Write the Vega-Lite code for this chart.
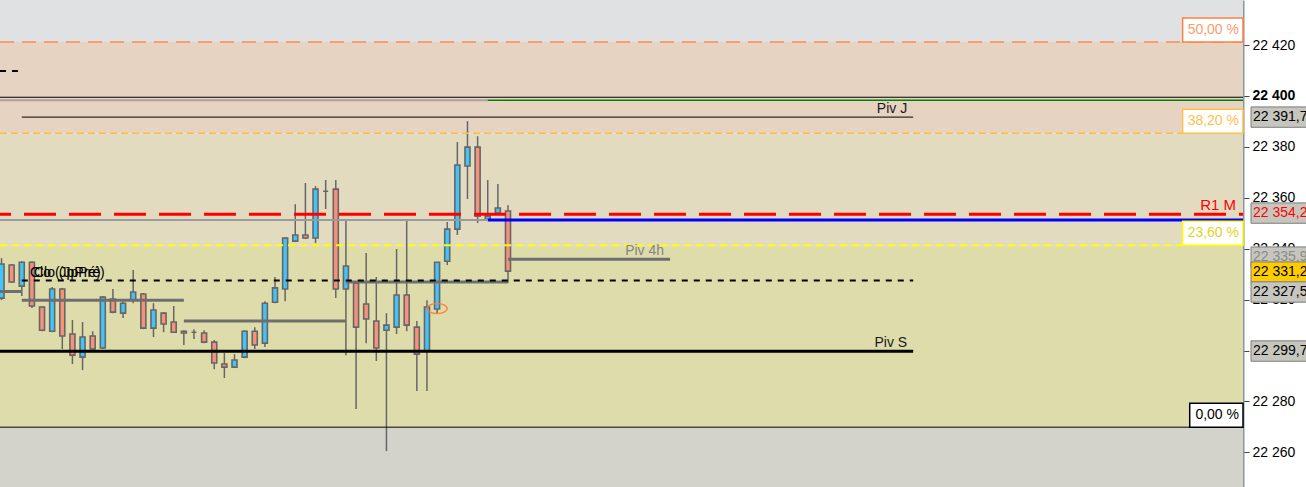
{
  "$schema": "https://vega.github.io/schema/vega-lite/v6.json",
  "width": 1243,
  "height": 487,
  "autosize": {"type": "none"},
  "padding": {"left": 0, "top": 0, "right": 63, "bottom": 0},
  "background": "#ffffff",
  "config": {"view": {"stroke": null}, "scale": {"continuousPadding": 0}},
  "resolve": {"scale": {"color": "independent", "fill": "independent", "stroke": "independent", "strokeDash": "independent"}},
  "datasets": {
    "bands": [
      {"zone": "top", "lo": 22421.2, "hi": 22437.7},
      {"zone": "z50", "lo": 22385.4, "hi": 22421.2},
      {"zone": "z38", "lo": 22341.4, "hi": 22385.4},
      {"zone": "z23", "lo": 22269.9, "hi": 22341.4},
      {"zone": "bot", "lo": 22246.4, "hi": 22269.9}
    ],
    "candles": [
      {"i": 0, "o": 22320.6, "h": 22336.3, "l": 22319.8, "c": 22334.0},
      {"i": 1, "o": 22333.6, "h": 22334.0, "l": 22326.5, "c": 22326.9},
      {"i": 2, "o": 22325.3, "h": 22335.1, "l": 22321.4, "c": 22334.7},
      {"i": 3, "o": 22334.7, "h": 22335.1, "l": 22316.7, "c": 22317.5},
      {"i": 4, "o": 22317.1, "h": 22317.5, "l": 22307.6, "c": 22308.0},
      {"i": 5, "o": 22307.6, "h": 22325.0, "l": 22307.2, "c": 22324.2},
      {"i": 6, "o": 22324.2, "h": 22324.6, "l": 22300.6, "c": 22305.7},
      {"i": 7, "o": 22306.5, "h": 22312.0, "l": 22294.7, "c": 22298.2},
      {"i": 8, "o": 22297.4, "h": 22311.2, "l": 22292.3, "c": 22305.3},
      {"i": 9, "o": 22305.7, "h": 22307.6, "l": 22300.2, "c": 22300.6},
      {"i": 10, "o": 22301.0, "h": 22321.4, "l": 22300.6, "c": 22321.0},
      {"i": 11, "o": 22320.2, "h": 22324.2, "l": 22314.7, "c": 22315.1},
      {"i": 12, "o": 22314.7, "h": 22319.4, "l": 22312.8, "c": 22318.6},
      {"i": 13, "o": 22319.8, "h": 22331.6, "l": 22318.6, "c": 22323.0},
      {"i": 14, "o": 22322.2, "h": 22322.6, "l": 22308.4, "c": 22308.8},
      {"i": 15, "o": 22308.8, "h": 22318.6, "l": 22305.3, "c": 22315.9},
      {"i": 16, "o": 22314.7, "h": 22315.1, "l": 22307.2, "c": 22310.4},
      {"i": 17, "o": 22311.2, "h": 22317.5, "l": 22306.9, "c": 22307.2},
      {"i": 18, "o": 22307.6, "h": 22308.0, "l": 22302.2, "c": 22306.9},
      {"i": 19, "o": 22307.2, "h": 22308.4, "l": 22304.5, "c": 22307.2},
      {"i": 20, "o": 22306.9, "h": 22308.0, "l": 22302.9, "c": 22303.3},
      {"i": 21, "o": 22303.3, "h": 22304.1, "l": 22292.7, "c": 22295.1},
      {"i": 22, "o": 22294.7, "h": 22299.0, "l": 22289.2, "c": 22293.5},
      {"i": 23, "o": 22293.5, "h": 22298.6, "l": 22293.1, "c": 22296.3},
      {"i": 24, "o": 22297.4, "h": 22308.0, "l": 22297.0, "c": 22307.6},
      {"i": 25, "o": 22307.6, "h": 22309.2, "l": 22300.6, "c": 22302.2},
      {"i": 26, "o": 22302.9, "h": 22319.4, "l": 22301.4, "c": 22318.6},
      {"i": 27, "o": 22319.0, "h": 22328.9, "l": 22318.6, "c": 22324.6},
      {"i": 28, "o": 22324.2, "h": 22344.6, "l": 22319.4, "c": 22344.2},
      {"i": 29, "o": 22343.0, "h": 22357.5, "l": 22342.6, "c": 22345.4},
      {"i": 30, "o": 22345.4, "h": 22365.8, "l": 22343.8, "c": 22344.2},
      {"i": 31, "o": 22344.2, "h": 22364.6, "l": 22342.2, "c": 22363.4},
      {"i": 32, "o": 22362.6, "h": 22367.0, "l": 22355.6, "c": 22362.6},
      {"i": 33, "o": 22363.4, "h": 22367.0, "l": 22320.6, "c": 22324.2},
      {"i": 34, "o": 22324.2, "h": 22351.6, "l": 22298.2, "c": 22333.2},
      {"i": 35, "o": 22326.5, "h": 22326.9, "l": 22277.0, "c": 22309.2},
      {"i": 36, "o": 22318.3, "h": 22338.3, "l": 22302.9, "c": 22312.4},
      {"i": 37, "o": 22311.6, "h": 22328.9, "l": 22295.9, "c": 22301.0},
      {"i": 38, "o": 22308.0, "h": 22314.7, "l": 22260.5, "c": 22310.0},
      {"i": 39, "o": 22309.2, "h": 22339.9, "l": 22306.5, "c": 22321.8},
      {"i": 40, "o": 22321.8, "h": 22351.6, "l": 22307.6, "c": 22310.0},
      {"i": 41, "o": 22309.2, "h": 22311.6, "l": 22284.1, "c": 22298.6},
      {"i": 42, "o": 22299.8, "h": 22319.8, "l": 22284.1, "c": 22317.1},
      {"i": 43, "o": 22316.3, "h": 22334.7, "l": 22314.7, "c": 22334.7},
      {"i": 44, "o": 22335.1, "h": 22350.5, "l": 22333.6, "c": 22347.7},
      {"i": 45, "o": 22347.7, "h": 22381.9, "l": 22345.4, "c": 22372.9},
      {"i": 46, "o": 22372.5, "h": 22390.1, "l": 22359.5, "c": 22379.9},
      {"i": 47, "o": 22379.9, "h": 22384.2, "l": 22350.1, "c": 22352.8},
      {"i": 48, "o": 22351.6, "h": 22367.0, "l": 22351.3, "c": 22352.8},
      {"i": 49, "o": 22354.0, "h": 22365.4, "l": 22353.6, "c": 22356.0},
      {"i": 50, "o": 22354.8, "h": 22357.1, "l": 22326.5, "c": 22331.2}
    ],
    "lines": [
      {"kind": "fib50", "p": 22421.2, "x0": -0.15, "x1": 122.56},
      {"kind": "fib382", "p": 22385.4, "x0": -0.15, "x1": 122.56},
      {"kind": "fib236", "p": 22341.4, "x0": -0.15, "x1": 122.56},
      {"kind": "fib0", "p": 22269.9, "x0": -0.15, "x1": 122.56},
      {"kind": "lvl", "p": 22399.5, "x0": -0.15, "x1": 122.56},
      {"kind": "topdash", "p": 22409.8, "x0": -0.15, "x1": 1.85},
      {"kind": "gray400", "p": 22398.3, "x0": -0.15, "x1": 48},
      {"kind": "green400", "p": 22398.3, "x0": 48, "x1": 122.56},
      {"kind": "pivJ", "p": 22391.7, "x0": 2, "x1": 90},
      {"kind": "r1m", "p": 22353.5, "x0": -0.15, "x1": 122.56},
      {"kind": "gray352", "p": 22351.3, "x0": -0.15, "x1": 48},
      {"kind": "blue352", "p": 22351.3, "x0": 48, "x1": 122.56},
      {"kind": "clo", "p": 22327.5, "x0": 2, "x1": 90},
      {"kind": "pivS", "p": 22299.7, "x0": -0.15, "x1": 90},
      {"kind": "piv4h", "p": 22323.2, "x0": -0.15, "x1": 2},
      {"kind": "piv4h", "p": 22319.8, "x0": 2, "x1": 18},
      {"kind": "piv4h", "p": 22311.6, "x0": 18, "x1": 34},
      {"kind": "piv4h", "p": 22326.9, "x0": 34, "x1": 50},
      {"kind": "piv4h", "p": 22335.9, "x0": 50, "x1": 66}
    ],
    "rlabels": [
      {"t": "Piv J", "x": 90, "p": 22391.7, "kind": "dark"},
      {"t": "Piv S", "x": 90, "p": 22299.7, "kind": "dark"},
      {"t": "Piv 4h", "x": 66, "p": 22335.9, "kind": "gray"}
    ],
    "r1label": [
      {"t": "R1 M", "x": 122.56, "p": 22353.5}
    ],
    "llabels": [
      {"t": "Clo (JpPré)", "x": 2.81, "p": 22327.5},
      {"t": "Clo (JpPré)", "x": 3.2, "p": 22327.5}
    ],
    "fibs": [
      {"lab": "50,00 %", "p": 22421.2, "x0": 116.6, "x1": 122.56, "kind": "f50"},
      {"lab": "38,20 %", "p": 22385.4, "x0": 116.6, "x1": 122.56, "kind": "f38"},
      {"lab": "23,60 %", "p": 22341.4, "x0": 116.6, "x1": 122.56, "kind": "f23"},
      {"lab": "0,00 %", "p": 22269.9, "x0": 117.3, "x1": 122.56, "kind": "f0"}
    ],
    "tagsBack": [
      {"lab": "22 335,9", "s": 22336.7, "kind": "g"}
    ],
    "tags": [
      {"lab": "22 391,7", "s": 22391.7, "kind": "n"},
      {"lab": "22 354,2", "s": 22354.0, "kind": "r"},
      {"lab": "22 331,2", "s": 22330.8, "kind": "y"},
      {"lab": "22 327,5", "s": 22323.0, "kind": "n"},
      {"lab": "22 299,7", "s": 22299.8, "kind": "n"}
    ],
    "marks": [
      {"i": 43, "p": 22316.5}
    ]
  },
  "layer": [
    {
      "data": {"name": "bands"},
      "mark": {"type": "rect"},
      "encoding": {
        "y": {
          "field": "lo", "type": "quantitative", "title": null,
          "scale": {"domain": [22246.4, 22437.7], "nice": false, "zero": false, "padding": 0},
          "axis": {
            "orient": "right",
            "values": [22260, 22280, 22300, 22320, 22340, 22360, 22380, 22400, 22420],
            "labelExpr": "replace(format(datum.value, ','), ',', ' ')",
            "labelFontWeight": {"condition": {"test": "datum.value == 22400", "value": "bold"}, "value": "normal"},
            "grid": false,
            "domainColor": "#8797a6",
            "domainWidth": 2,
            "tickSize": 6,
            "tickColor": "#444444",
            "labelFont": "Liberation Sans",
            "labelFontSize": 14,
            "labelColor": "#000000",
            "labelPadding": 3,
            "labelOverlap": false,
            "labelFlush": false,
            "title": null
          }
        },
        "y2": {"field": "hi"},
        "color": {
          "field": "zone", "type": "nominal", "legend": null,
          "scale": {"domain": ["top", "z50", "z38", "z23", "bot"], "range": ["#dfe1e3", "#e7d3c1", "#e3dbbf", "#dfdcac", "#d3d2cb"]}
        }
      }
    },
    {
      "data": {"name": "candles"},
      "mark": {"type": "rule", "color": "#666666", "strokeWidth": 1.5},
      "encoding": {
        "x": {"field": "i", "type": "quantitative", "axis": null, "scale": {"domain": [-0.15, 122.56], "nice": false, "zero": false, "padding": 0}},
        "y": {"field": "l", "type": "quantitative", "title": null, "scale": {"domain": [22246.4, 22437.7], "nice": false, "zero": false, "padding": 0}},
        "y2": {"field": "h"}
      }
    },
    {
      "data": {"name": "candles"},
      "transform": [{"calculate": "datum.c > datum.o ? 'up' : (datum.c < datum.o ? 'down' : 'doji')", "as": "dir"}],
      "mark": {"type": "bar", "width": 5, "stroke": "#666666", "strokeWidth": 1.6},
      "encoding": {
        "x": {"field": "i", "type": "quantitative", "axis": null, "scale": {"domain": [-0.15, 122.56], "nice": false, "zero": false, "padding": 0}},
        "y": {"field": "o", "type": "quantitative", "title": null, "scale": {"domain": [22246.4, 22437.7], "nice": false, "zero": false, "padding": 0}},
        "y2": {"field": "c"},
        "fill": {"field": "dir", "type": "nominal", "legend": null, "scale": {"domain": ["up", "down", "doji"], "range": ["#40c4fc", "#f8917c", "#666666"]}}
      }
    },
    {
      "data": {"name": "lines"},
      "transform": [{"filter": {"field": "kind", "oneOf": ["r1m", "blue352", "pivS", "piv4h"]}}],
      "mark": {"type": "rule", "strokeWidth": 3, "strokeDashOffset": 21},
      "encoding": {
        "x": {"field": "x0", "type": "quantitative", "axis": null, "scale": {"domain": [-0.15, 122.56], "nice": false, "zero": false, "padding": 0}},
        "x2": {"field": "x1"},
        "y": {"field": "p", "type": "quantitative", "title": null, "scale": {"domain": [22246.4, 22437.7], "nice": false, "zero": false, "padding": 0}},
        "color": {"field": "kind", "type": "nominal", "legend": null, "scale": {"domain": ["r1m", "blue352", "pivS", "piv4h"], "range": ["#ff0000", "#0000ff", "#000000", "#6e6e6e"]}},
        "strokeDash": {"field": "kind", "type": "nominal", "legend": null, "scale": {"domain": ["r1m", "blue352", "pivS", "piv4h"], "range": [[32, 13], [1, 0], [1, 0], [1, 0]]}}
      }
    },
    {
      "data": {"name": "lines"},
      "transform": [{"filter": {"field": "kind", "oneOf": ["fib236", "topdash", "gray400", "gray352", "clo"]}}],
      "mark": {"type": "rule", "strokeWidth": 2},
      "encoding": {
        "x": {"field": "x0", "type": "quantitative", "axis": null, "scale": {"domain": [-0.15, 122.56], "nice": false, "zero": false, "padding": 0}},
        "x2": {"field": "x1"},
        "y": {"field": "p", "type": "quantitative", "title": null, "scale": {"domain": [22246.4, 22437.7], "nice": false, "zero": false, "padding": 0}},
        "color": {"field": "kind", "type": "nominal", "legend": null, "scale": {"domain": ["fib236", "topdash", "gray400", "gray352", "clo"], "range": ["#ffff00", "#000000", "#aaa39c", "#9a9a9a", "#000000"]}},
        "strokeDash": {"field": "kind", "type": "nominal", "legend": null, "scale": {"domain": ["fib236", "topdash", "gray400", "gray352", "clo"], "range": [[7, 5], [6, 6], [1, 0], [1, 0], [6, 6]]}}
      }
    },
    {
      "data": {"name": "lines"},
      "transform": [{"filter": {"field": "kind", "oneOf": ["fib50", "fib382", "green400"]}}],
      "mark": {"type": "rule", "strokeWidth": 1.5},
      "encoding": {
        "x": {"field": "x0", "type": "quantitative", "axis": null, "scale": {"domain": [-0.15, 122.56], "nice": false, "zero": false, "padding": 0}},
        "x2": {"field": "x1"},
        "y": {"field": "p", "type": "quantitative", "title": null, "scale": {"domain": [22246.4, 22437.7], "nice": false, "zero": false, "padding": 0}},
        "color": {"field": "kind", "type": "nominal", "legend": null, "scale": {"domain": ["fib50", "fib382", "green400"], "range": ["#ff8a55", "#ffbe3c", "#008000"]}},
        "strokeDash": {"field": "kind", "type": "nominal", "legend": null, "scale": {"domain": ["fib50", "fib382", "green400"], "range": [[14, 8], [7, 4], [1, 0]]}}
      }
    },
    {
      "data": {"name": "lines"},
      "transform": [{"filter": {"field": "kind", "oneOf": ["fib0", "lvl", "pivJ"]}}],
      "mark": {"type": "rule", "strokeWidth": 1, "color": "#000000"},
      "encoding": {
        "x": {"field": "x0", "type": "quantitative", "axis": null, "scale": {"domain": [-0.15, 122.56], "nice": false, "zero": false, "padding": 0}},
        "x2": {"field": "x1"},
        "y": {"field": "p", "type": "quantitative", "title": null, "scale": {"domain": [22246.4, 22437.7], "nice": false, "zero": false, "padding": 0}}
      }
    },
    {
      "data": {"name": "rlabels"},
      "mark": {"type": "text", "align": "right", "baseline": "alphabetic", "dx": -6, "dy": -4, "font": "Liberation Sans", "fontSize": 14},
      "encoding": {
        "x": {"field": "x", "type": "quantitative", "axis": null, "scale": {"domain": [-0.15, 122.56], "nice": false, "zero": false, "padding": 0}},
        "y": {"field": "p", "type": "quantitative", "title": null, "scale": {"domain": [22246.4, 22437.7], "nice": false, "zero": false, "padding": 0}},
        "text": {"field": "t"},
        "color": {"field": "kind", "type": "nominal", "legend": null, "scale": {"domain": ["dark", "gray"], "range": ["#1a1a1a", "#858585"]}}
      }
    },
    {
      "data": {"name": "r1label"},
      "mark": {"type": "text", "align": "right", "baseline": "alphabetic", "dx": -7, "dy": -4, "font": "Liberation Sans", "fontSize": 15, "color": "#ff0000"},
      "encoding": {
        "x": {"field": "x", "type": "quantitative", "axis": null, "scale": {"domain": [-0.15, 122.56], "nice": false, "zero": false, "padding": 0}},
        "y": {"field": "p", "type": "quantitative", "title": null, "scale": {"domain": [22246.4, 22437.7], "nice": false, "zero": false, "padding": 0}},
        "text": {"field": "t"}
      }
    },
    {
      "data": {"name": "llabels"},
      "mark": {"type": "text", "align": "left", "baseline": "alphabetic", "dy": -4, "font": "Liberation Sans", "fontSize": 14, "color": "#000000"},
      "encoding": {
        "x": {"field": "x", "type": "quantitative", "axis": null, "scale": {"domain": [-0.15, 122.56], "nice": false, "zero": false, "padding": 0}},
        "y": {"field": "p", "type": "quantitative", "title": null, "scale": {"domain": [22246.4, 22437.7], "nice": false, "zero": false, "padding": 0}},
        "text": {"field": "t"}
      }
    },
    {
      "data": {"name": "fibs"},
      "transform": [{"calculate": "datum.p + 9.4", "as": "ptop"}],
      "mark": {"type": "rect", "fill": "#ffffff", "strokeWidth": 1.5},
      "encoding": {
        "x": {"field": "x0", "type": "quantitative", "axis": null, "scale": {"domain": [-0.15, 122.56], "nice": false, "zero": false, "padding": 0}},
        "x2": {"field": "x1"},
        "y": {"field": "p", "type": "quantitative", "title": null, "scale": {"domain": [22246.4, 22437.7], "nice": false, "zero": false, "padding": 0}},
        "y2": {"field": "ptop"},
        "stroke": {"field": "kind", "type": "nominal", "legend": null, "scale": {"domain": ["f50", "f38", "f23", "f0"], "range": ["#ff8040", "#ffc04a", "#ffff00", "#000000"]}}
      }
    },
    {
      "data": {"name": "fibs"},
      "transform": [{"calculate": "datum.p + 4.7", "as": "pmid"}],
      "mark": {"type": "text", "align": "right", "baseline": "middle", "dx": -4, "font": "Liberation Sans", "fontSize": 14},
      "encoding": {
        "x": {"field": "x1", "type": "quantitative", "axis": null, "scale": {"domain": [-0.15, 122.56], "nice": false, "zero": false, "padding": 0}},
        "y": {"field": "pmid", "type": "quantitative", "title": null, "scale": {"domain": [22246.4, 22437.7], "nice": false, "zero": false, "padding": 0}},
        "text": {"field": "lab"},
        "color": {"field": "kind", "type": "nominal", "legend": null, "scale": {"domain": ["f50", "f38", "f23", "f0"], "range": ["#ff9a70", "#ffc04a", "#e2d41e", "#000000"]}}
      }
    },
    {
      "data": {"name": "marks"},
      "mark": {"type": "point", "shape": "M -1 0 A 1 0.5 0 1 0 1 0 A 1 0.5 0 1 0 -1 0 Z", "size": 400, "filled": false, "stroke": "#ff7a3c", "strokeWidth": 1.5, "opacity": 0.85},
      "encoding": {
        "x": {"field": "i", "type": "quantitative", "axis": null, "scale": {"domain": [-0.15, 122.56], "nice": false, "zero": false, "padding": 0}},
        "y": {"field": "p", "type": "quantitative", "title": null, "scale": {"domain": [22246.4, 22437.7], "nice": false, "zero": false, "padding": 0}}
      }
    },
    {
      "data": {"name": "tagsBack"},
      "transform": [{"calculate": "datum.s - 4", "as": "y0"}, {"calculate": "datum.s + 4", "as": "y1"}],
      "mark": {"type": "rect", "fill": "#c6c6be", "stroke": "#7c7c7c", "strokeWidth": 1},
      "encoding": {
        "x": {"datum": 123.35, "type": "quantitative", "axis": null, "scale": {"domain": [-0.15, 122.56], "nice": false, "zero": false, "padding": 0}},
        "x2": {"datum": 131},
        "y": {"field": "y0", "type": "quantitative", "title": null, "scale": {"domain": [22246.4, 22437.7], "nice": false, "zero": false, "padding": 0}},
        "y2": {"field": "y1"}
      }
    },
    {
      "data": {"name": "tagsBack"},
      "mark": {"type": "text", "align": "left", "baseline": "middle", "dx": 2, "font": "Liberation Sans", "fontSize": 14, "color": "#8a8a8a"},
      "encoding": {
        "x": {"datum": 123.35, "type": "quantitative", "axis": null, "scale": {"domain": [-0.15, 122.56], "nice": false, "zero": false, "padding": 0}},
        "y": {"field": "s", "type": "quantitative", "title": null, "scale": {"domain": [22246.4, 22437.7], "nice": false, "zero": false, "padding": 0}},
        "text": {"field": "lab"}
      }
    },
    {
      "data": {"name": "tags"},
      "transform": [{"calculate": "datum.s - 4", "as": "y0"}, {"calculate": "datum.s + 4", "as": "y1"}],
      "mark": {"type": "rect", "stroke": "#7c7c7c", "strokeWidth": 1},
      "encoding": {
        "x": {"datum": 123.35, "type": "quantitative", "axis": null, "scale": {"domain": [-0.15, 122.56], "nice": false, "zero": false, "padding": 0}},
        "x2": {"datum": 131},
        "y": {"field": "y0", "type": "quantitative", "title": null, "scale": {"domain": [22246.4, 22437.7], "nice": false, "zero": false, "padding": 0}},
        "y2": {"field": "y1"},
        "fill": {"field": "kind", "type": "nominal", "legend": null, "scale": {"domain": ["n", "r", "y"], "range": ["#c6c6be", "#c6c6be", "#ffcc00"]}}
      }
    },
    {
      "data": {"name": "tags"},
      "mark": {"type": "text", "align": "left", "baseline": "middle", "dx": 2, "font": "Liberation Sans", "fontSize": 14},
      "encoding": {
        "x": {"datum": 123.35, "type": "quantitative", "axis": null, "scale": {"domain": [-0.15, 122.56], "nice": false, "zero": false, "padding": 0}},
        "y": {"field": "s", "type": "quantitative", "title": null, "scale": {"domain": [22246.4, 22437.7], "nice": false, "zero": false, "padding": 0}},
        "text": {"field": "lab"},
        "color": {"field": "kind", "type": "nominal", "legend": null, "scale": {"domain": ["n", "r", "y"], "range": ["#000000", "#ff0000", "#000000"]}}
      }
    }
  ]
}
